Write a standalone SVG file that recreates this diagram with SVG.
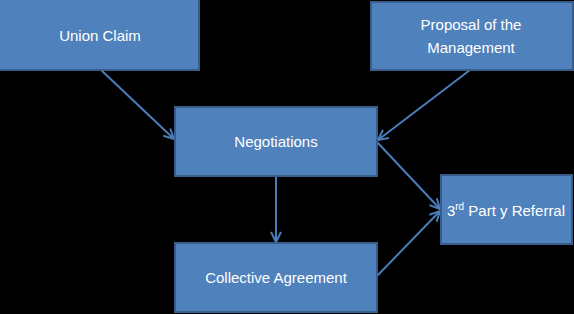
<svg xmlns="http://www.w3.org/2000/svg" width="574" height="314" viewBox="0 0 574 314">
<defs>
<style>
.box{fill:#4F81BD;stroke:#385D8A;stroke-width:2}
.t{font-family:"Liberation Sans",Arial,sans-serif;font-size:15px;fill:#FFFFFF;text-anchor:middle}
.c{stroke:#4A7EBB;stroke-width:2;fill:none}
</style>
<marker id="ah" viewBox="0 0 12 12" refX="11" refY="6" markerWidth="12" markerHeight="12" markerUnits="userSpaceOnUse" orient="auto">
<path d="M1,1 L11,6 L1,11" fill="none" stroke="#4A7EBB" stroke-width="2"/>
</marker>
</defs>
<rect x="0" y="0" width="574" height="314" fill="#000000"/>
<g id="connectors">
<line class="c" x1="101" y1="70" x2="174" y2="139" marker-end="url(#ah)"/>
<line class="c" x1="470" y1="70" x2="378" y2="140" marker-end="url(#ah)"/>
<line class="c" x1="377" y1="142" x2="440" y2="209" marker-end="url(#ah)"/>
<line class="c" x1="377" y1="276" x2="440" y2="211" marker-end="url(#ah)"/>
<line class="c" x1="276" y1="176" x2="276" y2="242" marker-end="url(#ah)"/>
</g>
<g id="union-claim">
<rect class="box" x="-1" y="-1" width="200" height="71"/>
<text class="t" x="100" y="41">Union Claim</text>
</g>
<g id="proposal">
<rect class="box" x="371" y="2" width="202" height="68"/>
<text class="t" x="471" y="30">Proposal of the</text>
<text class="t" x="471" y="53">Management</text>
</g>
<g id="negotiations">
<rect class="box" x="175" y="107" width="202" height="69"/>
<text class="t" x="276" y="147">Negotiations</text>
</g>
<g id="third-party">
<rect class="box" x="441" y="175" width="131" height="69"/>
<text class="t" x="506" y="216">3<tspan font-size="10" dy="-6">rd</tspan><tspan dy="6"> Part y Referral</tspan></text>
</g>
<g id="collective">
<rect class="box" x="175" y="243" width="202" height="69"/>
<text class="t" x="276" y="283">Collective Agreement</text>
</g>
</svg>
